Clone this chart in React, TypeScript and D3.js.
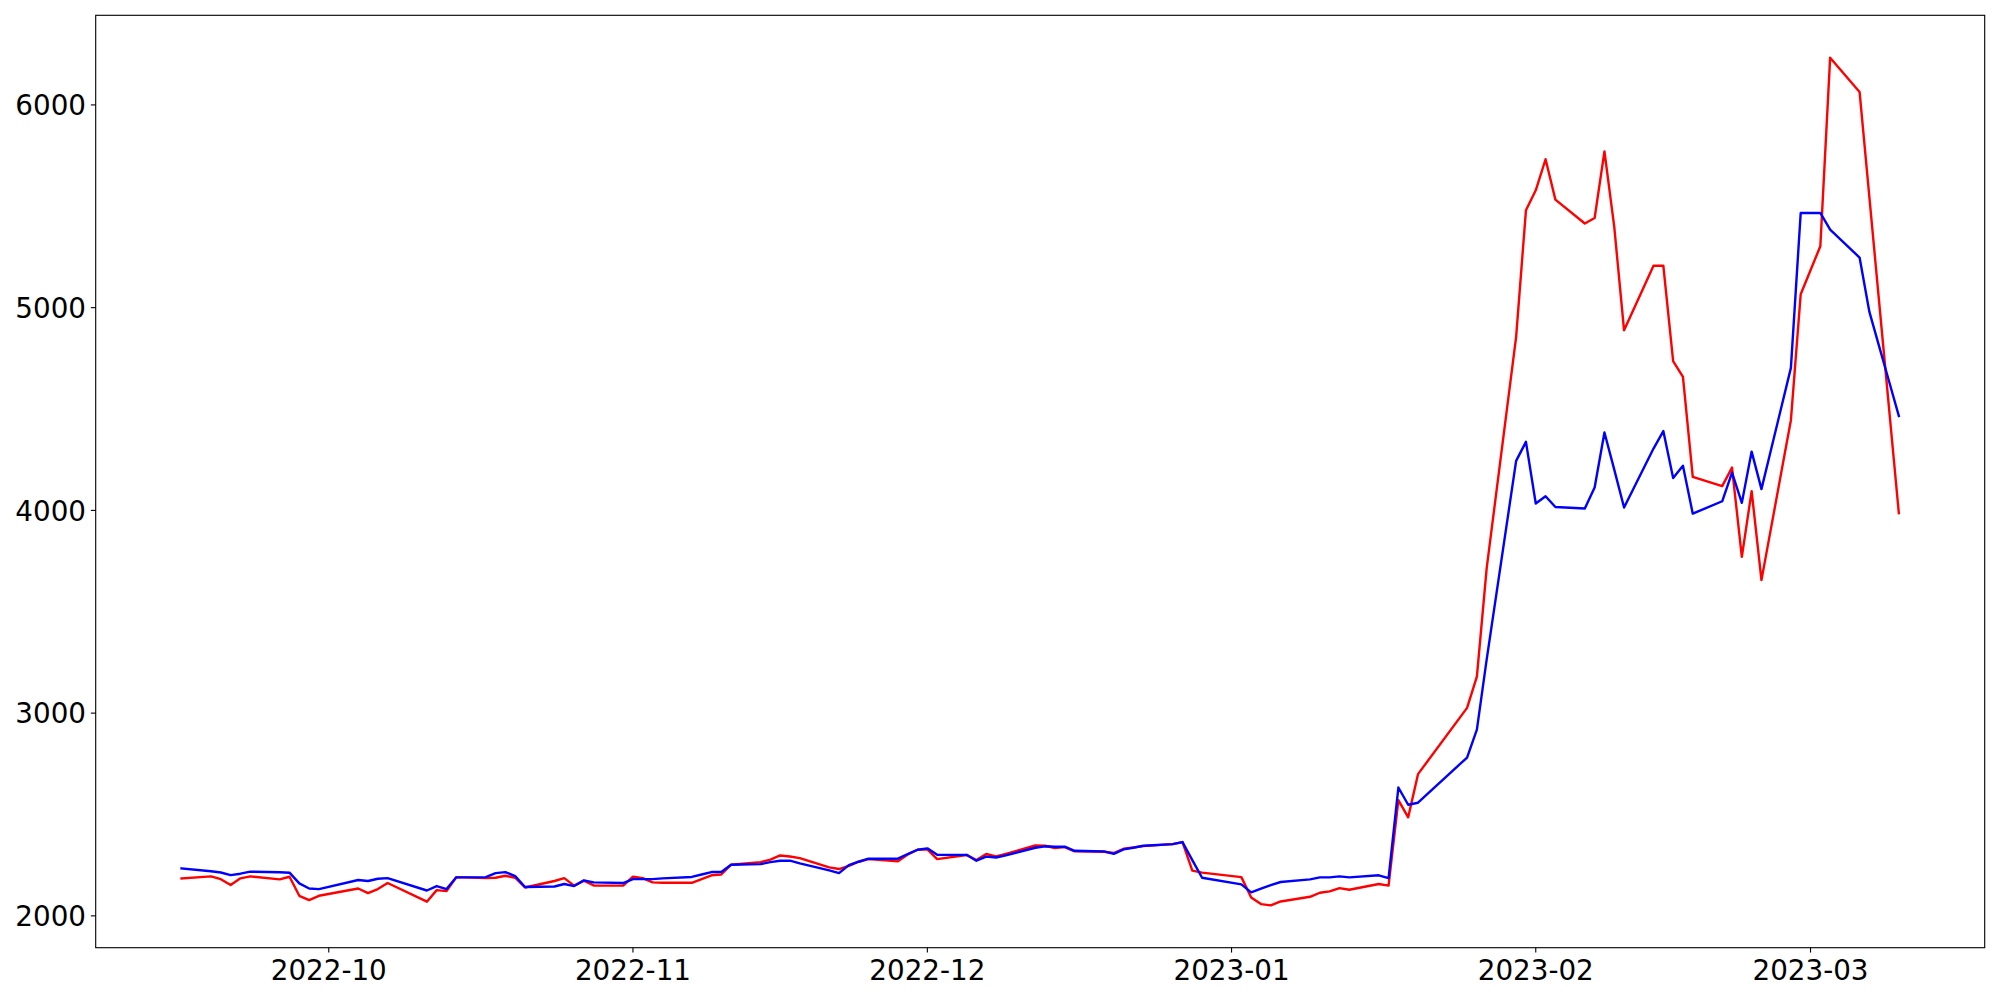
import React from "react";
import * as d3 from "d3";

const dates = [
  "2022-09-16","2022-09-19","2022-09-20","2022-09-21","2022-09-22","2022-09-23","2022-09-26","2022-09-27","2022-09-28","2022-09-29","2022-09-30",
  "2022-10-04","2022-10-05","2022-10-06","2022-10-07","2022-10-11","2022-10-12","2022-10-13","2022-10-14","2022-10-17","2022-10-18","2022-10-19","2022-10-20","2022-10-21","2022-10-24","2022-10-25","2022-10-26","2022-10-27","2022-10-28","2022-10-31",
  "2022-11-01","2022-11-02","2022-11-03","2022-11-04","2022-11-07","2022-11-08","2022-11-09","2022-11-10","2022-11-11","2022-11-14","2022-11-15","2022-11-16","2022-11-17","2022-11-18","2022-11-21","2022-11-22","2022-11-23","2022-11-24","2022-11-25","2022-11-28","2022-11-29","2022-11-30",
  "2022-12-01","2022-12-02","2022-12-05","2022-12-06","2022-12-07","2022-12-08","2022-12-09","2022-12-12","2022-12-13","2022-12-14","2022-12-15","2022-12-16","2022-12-19","2022-12-20","2022-12-21","2022-12-22","2022-12-23","2022-12-26","2022-12-27","2022-12-28","2022-12-29",
  "2023-01-02","2023-01-03","2023-01-04","2023-01-05","2023-01-06","2023-01-09","2023-01-10","2023-01-11","2023-01-12","2023-01-13","2023-01-16","2023-01-17","2023-01-18","2023-01-19","2023-01-20","2023-01-25","2023-01-26","2023-01-27","2023-01-30","2023-01-31",
  "2023-02-01","2023-02-02","2023-02-03","2023-02-06","2023-02-07","2023-02-08","2023-02-09","2023-02-10","2023-02-13","2023-02-14","2023-02-15","2023-02-16","2023-02-17","2023-02-20","2023-02-21","2023-02-22","2023-02-23","2023-02-24","2023-02-27","2023-02-28",
  "2023-03-02","2023-03-03","2023-03-06","2023-03-07","2023-03-08","2023-03-09","2023-03-10",
];

const redValues = [
  2185,2195,2181,2152,2185,2195,2180,2193,2099,2078,2099,
  2135,2112,2132,2162,2070,2127,2122,2191,2186,2188,2198,2188,2140,2172,2186,2149,2173,2150,2149,
  2193,2186,2165,2163,2163,2181,2200,2204,2252,2265,2277,2298,2293,2285,2239,2231,2247,2267,2280,2269,2303,2326,
  2328,2280,2300,2275,2305,2293,2306,2347,2346,2334,2339,2318,2316,2310,2331,2338,2344,2354,2364,2223,2213,
  2191,2091,2058,2052,2071,2094,2114,2121,2137,2129,2157,2149,2571,2486,2699,3026,3180,3715,4856,5480,
  5579,5732,5533,5415,5442,5771,5398,4888,5207,5207,4736,4658,4165,4120,4211,3771,4095,3656,4445,5066,
  5303,6233,6064,5544,5024,4504,3986,
];

const blueValues = [
  2234,2220,2214,2201,2208,2218,2215,2213,2160,2135,2132,
  2177,2172,2183,2186,2125,2147,2132,2190,2191,2211,2216,2196,2142,2145,2157,2147,2175,2165,2162,
  2181,2181,2181,2185,2192,2204,2216,2216,2252,2255,2265,2272,2272,2259,2224,2211,2250,2267,2282,2282,2305,2326,
  2333,2301,2301,2272,2292,2288,2298,2336,2343,2341,2341,2321,2318,2306,2328,2336,2346,2354,2364,2275,2188,
  2155,2116,2134,2152,2167,2180,2190,2190,2195,2190,2200,2186,2633,2548,2558,2781,2919,3265,4244,4338,
  4034,4070,4017,4009,4113,4384,4201,4014,4305,4391,4160,4220,3984,4045,4186,4037,4290,4105,4703,5467,
  5467,5385,5247,4979,4808,4637,4466,
];

const yTicks = [2000, 3000, 4000, 5000, 6000];
const xTickLabels = ["2022-10", "2022-11", "2022-12", "2023-01", "2023-02", "2023-03"];

export default function App() {
  const W = 2000, H = 1000;
  const L = 95.7, R = 1984.7, T = 15.3, B = 947.7;
  const fontSize = 27.78;
  const tickLen = 4.86;
  const pad = 4.86;

  const parse = d3.utcParse("%Y-%m-%d");
  const parseMonth = d3.utcParse("%Y-%m");
  const xs = dates.map((d) => parse(d) as Date);
  const xMin = d3.min(xs)!.getTime();
  const xMax = d3.max(xs)!.getTime();
  const xSpan = xMax - xMin;
  const x = d3.scaleUtc()
    .domain([new Date(xMin - 0.05 * xSpan), new Date(xMax + 0.05 * xSpan)])
    .range([L, R]);

  const allV = [...redValues, ...blueValues];
  const yMin = d3.min(allV)!;
  const yMax = d3.max(allV)!;
  const ySpan = yMax - yMin;
  const y = d3.scaleLinear()
    .domain([yMin - 0.05 * ySpan, yMax + 0.05 * ySpan])
    .range([B, T]);

  const line = d3.line<number>()
    .x((_, i) => x(xs[i]))
    .y((v) => y(v));

  return (
    <div style={{ position: "absolute", left: 0, top: 0 }}>
      <svg width={W} height={H} style={{ display: "block", background: "#fff" }}
        fontFamily="'DejaVu Sans', sans-serif">
        <rect x={0} y={0} width={W} height={H} fill="#fff" />
        <path d={line(redValues) || ""} fill="none" stroke="#ff0000" strokeWidth={2.4}
          strokeLinejoin="round" strokeLinecap="square" />
        <path d={line(blueValues) || ""} fill="none" stroke="#0000ff" strokeWidth={2.4}
          strokeLinejoin="round" strokeLinecap="square" />
        <rect x={L} y={T} width={R - L} height={B - T} fill="none" stroke="#000" strokeWidth={1.11} />
        {yTicks.map((t) => (
          <g key={"y" + t}>
            <line x1={L - tickLen} x2={L} y1={y(t)} y2={y(t)} stroke="#000" strokeWidth={1.11} />
            <text x={L - tickLen - pad} y={y(t) + 10.3} textAnchor="end" fontSize={fontSize} fill="#000">
              {t}
            </text>
          </g>
        ))}
        {xTickLabels.map((lab) => {
          const px = x(parseMonth(lab) as Date);
          return (
            <g key={lab}>
              <line x1={px} x2={px} y1={B} y2={B + tickLen} stroke="#000" strokeWidth={1.11} />
              <text x={px} y={980} textAnchor="middle" fontSize={fontSize} fill="#000">
                {lab}
              </text>
            </g>
          );
        })}
      </svg>
    </div>
  );
}
